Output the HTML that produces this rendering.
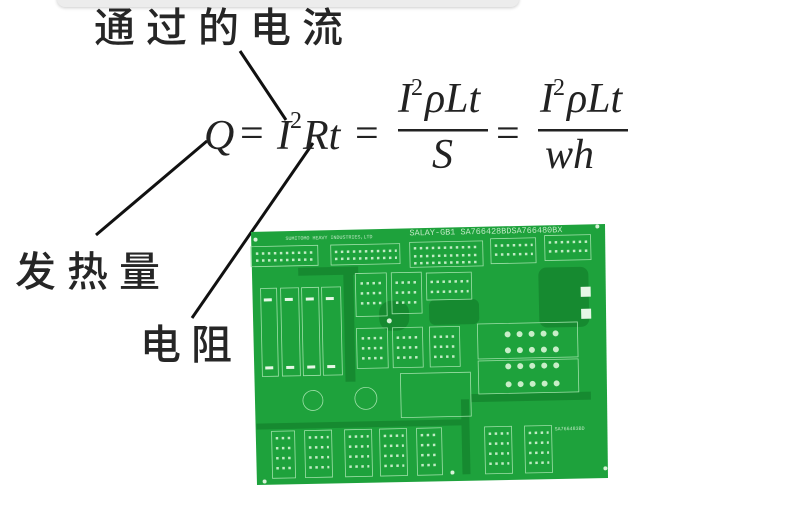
<!DOCTYPE html>
<html><head><meta charset="utf-8"><style>
html,body{margin:0;padding:0;background:#fff;}
body{width:794px;height:510px;overflow:hidden;position:relative;font-family:"Liberation Sans","Noto Sans CJK SC",sans-serif;}
.cn{position:absolute;color:#262626;font-family:"Noto Sans CJK SC","WenQuanYi Zen Hei",sans-serif;font-size:41px;font-weight:500;line-height:1;}
</style></head><body>
<div style="position:absolute;left:57px;top:-10px;width:462px;height:17px;background:#ececec;border-radius:8px;box-shadow:0 1px 3px #ccc;"></div>
<div class="cn" style="left:94px;top:4px;letter-spacing:11px;">通过的电流</div>
<div class="cn" style="left:15px;top:248px;letter-spacing:11px;">发热量</div>
<div class="cn" style="left:140px;top:321px;letter-spacing:10px;">电阻</div>
<svg width="794" height="510" style="position:absolute;left:0;top:0" xmlns="http://www.w3.org/2000/svg">
<g stroke="#111" stroke-width="3" fill="none">
<line x1="240" y1="51" x2="286" y2="120"/>
<line x1="207" y1="141" x2="96" y2="235"/>
<line x1="313" y1="143" x2="192" y2="318"/>
</g>
<g font-family="Liberation Serif,serif" font-style="italic" fill="#222" font-size="42">
<text x="204" y="149">Q</text>
<text x="240" y="147" font-style="normal">=</text>
<text x="277" y="149">I</text>
<text x="290" y="128" font-size="24" font-style="normal">2</text>
<text x="303" y="149">Rt</text>
<text x="355" y="147" font-style="normal">=</text>
<text x="398" y="112">I</text>
<text x="411" y="95" font-size="24" font-style="normal">2</text>
<text x="425" y="112">ρLt</text>
<rect x="398" y="129" width="90" height="2.5" fill="#222"/>
<text x="432" y="168">S</text>
<text x="496" y="147" font-style="normal">=</text>
<text x="540" y="112">I</text>
<text x="553" y="95" font-size="24" font-style="normal">2</text>
<text x="567" y="112">ρLt</text>
<rect x="538" y="129" width="90" height="2.5" fill="#222"/>
<text x="545" y="168">wh</text>
</g>
<polygon points="251,232 605,224 608,478 257,485" fill="#1ea23c"/>
<g transform="rotate(-1.2 430 355)">
<g fill="#168a30">
<rect x="300" y="265" width="60" height="8"/><rect x="345" y="270" width="10" height="110"/>
<rect x="430" y="300" width="50" height="25" rx="6"/><rect x="470" y="395" width="120" height="8"/>
<rect x="255" y="420" width="210" height="6"/><rect x="460" y="400" width="8" height="75"/>
<rect x="540" y="270" width="50" height="60" rx="8"/><rect x="380" y="300" width="30" height="30" rx="12"/>
</g>
<g fill="none" stroke="#9ee0a8" stroke-width="0.8">
<rect x="253" y="243" width="67" height="20"/><rect x="333" y="243" width="69" height="20"/>
<rect x="412" y="242" width="73" height="25"/><rect x="493" y="240" width="45" height="25"/>
<rect x="547" y="238" width="46" height="25"/>
<rect x="262" y="285" width="16" height="88"/><rect x="282" y="285" width="18" height="88"/>
<rect x="303" y="285" width="17" height="88"/><rect x="323" y="285" width="19" height="88"/>
<rect x="357" y="272" width="31" height="43"/><rect x="393" y="272" width="30" height="41"/>
<rect x="357" y="327" width="31" height="40"/><rect x="393" y="327" width="30" height="40"/>
<rect x="430" y="327" width="30" height="40"/><rect x="428" y="273" width="45" height="27"/>
<rect x="478" y="325" width="100" height="35"/><rect x="478" y="362" width="100" height="33"/>
<rect x="270" y="428" width="23" height="47"/><rect x="303" y="428" width="27" height="47"/>
<rect x="343" y="428" width="27" height="47"/><rect x="378" y="428" width="27" height="47"/>
<rect x="415" y="428" width="25" height="47"/><rect x="483" y="428" width="27" height="47"/>
<rect x="523" y="428" width="27" height="47"/>
<rect x="400" y="373" width="70" height="44"/>
<circle cx="312" cy="398" r="10"/><circle cx="365" cy="397" r="11"/>
</g>
<g fill="#e6f7e6">
<rect x="265" y="295" width="8" height="3"/><rect x="286" y="295" width="8" height="3"/><rect x="307" y="295" width="8" height="3"/><rect x="327" y="295" width="8" height="3"/>
<rect x="265" y="363" width="8" height="3"/><rect x="286" y="363" width="8" height="3"/><rect x="307" y="363" width="8" height="3"/><rect x="327" y="363" width="8" height="3"/>
<rect x="582" y="290" width="10" height="10"/><rect x="582" y="312" width="10" height="10"/>
</g>
<g fill="#d8f2d8">
<circle cx="258" cy="236" r="2"/><circle cx="600" cy="230" r="2"/><circle cx="262" cy="478" r="2"/><circle cx="603" cy="472" r="2"/>
<circle cx="390" cy="320" r="2.5"/><circle cx="450" cy="473" r="2"/>
</g>
<g fill="#c8eec8">
<circle cx="508" cy="336" r="3"/><circle cx="520" cy="336" r="3"/><circle cx="532" cy="336" r="3"/><circle cx="544" cy="336" r="3"/><circle cx="556" cy="336" r="3"/>
<circle cx="508" cy="352" r="3"/><circle cx="520" cy="352" r="3"/><circle cx="532" cy="352" r="3"/><circle cx="544" cy="352" r="3"/><circle cx="556" cy="352" r="3"/>
<circle cx="508" cy="368" r="3"/><circle cx="520" cy="368" r="3"/><circle cx="532" cy="368" r="3"/><circle cx="544" cy="368" r="3"/><circle cx="556" cy="368" r="3"/>
<circle cx="508" cy="386" r="3"/><circle cx="520" cy="386" r="3"/><circle cx="532" cy="386" r="3"/><circle cx="544" cy="386" r="3"/><circle cx="556" cy="386" r="3"/>
</g>
<g fill="#bfe8c4" font-family="Liberation Mono,monospace">
<text x="412" y="235" font-size="8.5">SALAY-GB1 SA766428BDSA766480BX</text>
<text x="288" y="237" font-size="5">SUMITOMO HEAVY INDUSTRIES,LTD</text>
<text x="553" y="433" font-size="5">SA766483BD</text>
</g>
<g fill="#b8e6bc">
<path d="M258 250h58M258 257h58M337 250h62M337 257h62M416 248h66M416 256h66M416 263h66M497 247h38M497 256h38M551 245h40M551 254h40M362 282h22M362 292h22M362 302h22M397 282h22M397 292h22M397 302h22M362 337h22M362 347h22M362 357h22M397 337h22M397 347h22M397 357h22M434 337h22M434 347h22M434 357h22M274 435h16M274 445h16M274 455h16M274 465h16M307 435h20M307 445h20M307 455h20M307 465h20M347 435h20M347 445h20M347 455h20M347 465h20M382 435h20M382 445h20M382 455h20M382 465h20M419 435h18M419 445h18M419 455h18M419 465h18M487 435h20M487 445h20M487 455h20M487 465h20M527 435h20M527 445h20M527 455h20M527 465h20M432 282h38M432 292h38" stroke="#c0ecc4" stroke-width="2.5" stroke-dasharray="2.5 3.5"/>
</g>
</g>
</svg>
</body></html>
